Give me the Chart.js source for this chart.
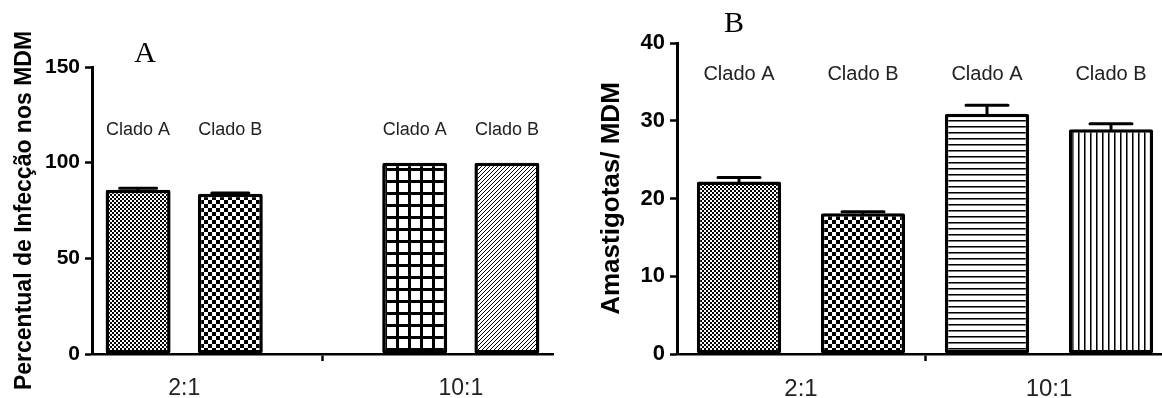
<!DOCTYPE html>
<html>
<head>
<meta charset="utf-8">
<script src="https://cdn.jsdelivr.net/npm/chart.js@4.4.1/dist/chart.umd.min.js"></script>
<style>
    html, body { margin: 0; padding: 0; background: #fff; overflow: hidden; width: 1162px; height: 398px; }
    #graficaA { position: absolute; left: 0; top: 0; }
    #graficaB { position: absolute; left: 580px; top: 0; }
</style>
</head>
<body>
<canvas id="graficaA" width="580" height="398"></canvas>
<canvas id="graficaB" width="593" height="398"></canvas>
<script>
// ===============================
// DADOS
// ===============================
// Painel A: 5 posições, a do meio é o espaço entre os grupos
const posicoesA = ["2:1 A", "2:1 B", "", "10:1 A", "10:1 B"];
const cladosA   = ["Clado A", "Clado B", "", "Clado A", "Clado B"];
const valoresA  = [85.8, 83.7, null, 100, 100];
const errosA    = [0.8, 0.5, null, 0, 0];
const gruposA   = ["2:1", "10:1"];
const centrosA  = [1, 4];          // centro de cada grupo em unidades de posição
const rotuloA   = 117;             // altura (valor) dos rótulos "Clado"

// Painel B
const posicoesB = ["2:1 A", "2:1 B", "10:1 A", "10:1 B"];
const cladosB   = ["Clado A", "Clado B", "Clado A", "Clado B"];
const valoresB  = [22.2, 18.1, 30.9, 28.9];
const errosB    = [0.5, 0.2, 1.1, 0.7];
const gruposB   = ["2:1", "10:1"];
const centrosB  = [1, 3];
const rotuloB   = 35.9;

Chart.defaults.font.family = "'Liberation Sans', Arial, sans-serif";
Chart.defaults.color = "#111";

// ===============================
// PADRÕES DE PREENCHIMENTO
// ===============================
function padrao(w, h, desenhar) {
    const c = document.createElement("canvas");
    c.width = w; c.height = h;
    const g = c.getContext("2d");
    g.fillStyle = "#fff";
    g.fillRect(0, 0, w, h);
    g.fillStyle = "#000";
    desenhar(g);
    return g.createPattern(c, "repeat");
}

const xadrezFino = padrao(4, 4, g => { g.fillRect(0, 0, 2, 2); g.fillRect(2, 2, 2, 2); });
const xadrez     = padrao(8, 8, g => { g.fillRect(0, 0, 4, 4); g.fillRect(4, 4, 4, 4); });
const grade      = padrao(12, 12, g => { g.fillRect(0, 0, 3, 12); g.fillRect(0, 0, 12, 3); });
const diagonal   = padrao(4, 4, g => {
    g.fillRect(3, 0, 1, 1); g.fillRect(2, 1, 1, 1); g.fillRect(1, 2, 1, 1); g.fillRect(0, 3, 1, 1);
});
const horizontal = padrao(6, 6, g => { g.fillRect(0, 0, 6, 1); g.fillStyle = "#777"; g.fillRect(0, 1, 6, 1); });
const vertical   = padrao(6, 6, g => { g.fillRect(0, 0, 1, 6); g.fillStyle = "#777"; g.fillRect(1, 0, 1, 6); });

// ===============================
// PLUGINS
// ===============================
const barrasErro = {
    id: "barrasErro",
    afterDatasetsDraw(chart, args, opts) {
        const { ctx } = chart;
        const y = chart.scales.y;
        const meta = chart.getDatasetMeta(0);
        const dados = chart.data.datasets[0].data;
        ctx.save();
        ctx.strokeStyle = "#000";
        ctx.lineWidth = 3;
        ctx.lineCap = "round";
        opts.erros.forEach((e, i) => {
            if (!e) return;
            const bar = meta.data[i];
            const topo = y.getPixelForValue(dados[i] + e);
            ctx.beginPath();
            ctx.moveTo(bar.x, bar.y);
            ctx.lineTo(bar.x, topo);
            ctx.moveTo(bar.x - opts.capa / 2, topo);
            ctx.lineTo(bar.x + opts.capa / 2, topo);
            ctx.stroke();
        });
        ctx.restore();
    }
};

const rotulos = {
    id: "rotulos",
    afterDatasetsDraw(chart, args, opts) {
        const { ctx } = chart;
        const meta = chart.getDatasetMeta(0);
        const yy = chart.scales.y.getPixelForValue(opts.valor);
        ctx.save();
        ctx.font = opts.tamanho + "px 'Liberation Sans', Arial, sans-serif";
        ctx.fillStyle = "#222";
        ctx.textAlign = "center";
        ctx.textBaseline = "middle";
        opts.textos.forEach((t, i) => { if (t) ctx.fillText(t, meta.data[i].x, yy); });
        // letra do painel
        ctx.font = "30px 'Liberation Serif', 'Times New Roman', serif";
        ctx.fillStyle = "#000";
        ctx.fillText(opts.letra, chart.chartArea.left + opts.letraDx, chart.chartArea.top - opts.letraDy);
        ctx.restore();
    }
};

// ===============================
// FUNÇÃO QUE MONTA CADA PAINEL
// ===============================
function painel(id, cfg) {
    return new Chart(document.getElementById(id), {
        type: "bar",
        data: {
            labels: cfg.posicoes,
            datasets: [{
                data: cfg.valores,
                backgroundColor: cfg.padroes,
                borderColor: "#000",
                borderWidth: 3.5,
                borderSkipped: false,
                borderRadius: 2,
                barPercentage: cfg.barra,
                categoryPercentage: 1
            }]
        },
        options: {
            responsive: false,
            animation: false,
            layout: { padding: { top: cfg.topo, right: cfg.direita, left: 0, bottom: 0 } },
            plugins: {
                legend: { display: false },
                tooltip: { enabled: false },
                barrasErro: { erros: cfg.erros, capa: cfg.capa },
                rotulos: { textos: cfg.clados, valor: cfg.rotulo, tamanho: cfg.fonteRotulo,
                           letra: cfg.letra, letraDx: cfg.letraDx, letraDy: cfg.letraDy }
            },
            scales: {
                x: {
                    type: "category",
                    offset: true,
                    border: { display: true, color: "#000", width: 2.5 },
                    grid: {
                        offset: cfg.gradeOffset,
                        drawOnChartArea: false,
                        drawTicks: true,
                        tickLength: 7,
                        tickWidth: 2.5,
                        tickColor: c => c.index === 2 ? "#000" : "rgba(0,0,0,0)"
                    },
                    ticks: { display: false },
                    afterFit: s => { s.height = 8; }
                },
                x2: {
                    type: "linear",
                    position: "bottom",
                    axis: "x",
                    offset: false,
                    bounds: "data",
                    min: 0,
                    max: cfg.posicoes.length,
                    grid: { display: false, offset: false },
                    border: { display: false },
                    afterBuildTicks: s => { s.ticks = cfg.centros.map(v => ({ value: v })); },
                    ticks: {
                        padding: 5,
                        maxRotation: 0,
                        autoSkip: false,
                        font: { size: cfg.fonteGrupo },
                        color: "#222",
                        callback: v => cfg.grupos[cfg.centros.indexOf(v)]
                    },
                    afterFit: s => { s.height = 36; }
                },
                y: {
                    min: 0,
                    max: cfg.max,
                    border: { display: true, color: "#000", width: 3 },
                    grid: {
                        drawOnChartArea: false,
                        drawTicks: true,
                        tickLength: 7,
                        tickWidth: 2.5,
                        tickColor: "#000"
                    },
                    ticks: { stepSize: cfg.passo, padding: 5, color: "#000",
                             font: { size: cfg.fonteEixo, weight: "bold" } },
                    title: {
                        display: true,
                        text: cfg.titulo,
                        color: "#000",
                        padding: { top: cfg.tituloPad, bottom: 0 },
                        font: { size: cfg.fonteTitulo, weight: "bold" }
                    },
                    afterFit: s => { s.width = cfg.larguraY; }
                }
            }
        },
        plugins: [barrasErro, rotulos]
    });
}

// ===============================
// PAINEL A
// ===============================
painel("graficaA", {
    posicoes: posicoesA, valores: valoresA, erros: errosA, clados: cladosA,
    grupos: gruposA, centros: centrosA, rotulo: rotuloA,
    padroes: [xadrezFino, xadrez, "#fff", grade, diagonal],
    barra: 0.705, capa: 37, topo: 67, direita: 27, larguraY: 92,
    max: 150, passo: 50, gradeOffset: false,
    titulo: "Percentual de Infecção nos MDM", fonteTitulo: 23, tituloPad: 11,
    fonteEixo: 21, fonteGrupo: 23, fonteRotulo: 18,
    letra: "A", letraDx: 53, letraDy: 13
});

// ===============================
// PAINEL B
// ===============================
painel("graficaB", {
    posicoes: posicoesB, valores: valoresB, erros: errosB, clados: cladosB,
    grupos: gruposB, centros: centrosB, rotulo: rotuloB,
    padroes: [xadrezFino, xadrez, horizontal, vertical],
    barra: 0.68, capa: 42, topo: 43, direita: 0, larguraY: 97,
    max: 40, passo: 10, gradeOffset: true,
    titulo: "Amastigotas/ MDM", fonteTitulo: 26, tituloPad: 16,
    fonteEixo: 22, fonteGrupo: 24, fonteRotulo: 20,
    letra: "B", letraDx: 57, letraDy: 19
});
</script>
</body>
</html>
